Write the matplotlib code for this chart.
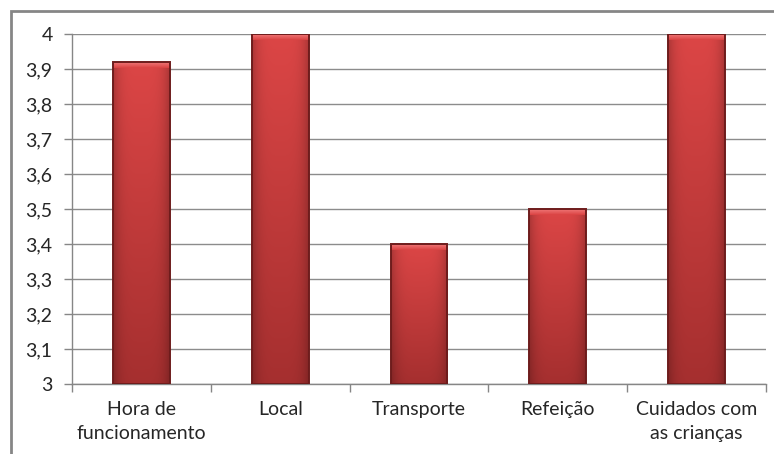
import matplotlib.pyplot as plt
import numpy as np
from matplotlib.patches import Rectangle
from matplotlib.colors import to_rgb

categorias = ['Hora de\nfuncionamento', 'Local', 'Transporte', 'Refeição', 'Cuidados com\nas crianças']
medias = [3.92, 4.0, 3.4, 3.5, 4.0]
yticks = [3.0, 3.1, 3.2, 3.3, 3.4, 3.5, 3.6, 3.7, 3.8, 3.9, 4.0]

plt.rcParams['font.family'] = ['Lato', 'DejaVu Sans']

fig = plt.figure(figsize=(7.74, 4.54), dpi=100)
ax = fig.add_axes([72/774, 1 - 384/454, 694/774, 350/454])

# moldura do grafico (cortada a direita e em baixo)
fig.patches.append(Rectangle((11/774, -0.1), 1.1, 1 - 11/454 + 0.1, transform=fig.transFigure,
                             fill=False, edgecolor='#868686', linewidth=2, zorder=0))

ymin, ymax = 3.0, 4.0
largura = 0.41
topo = np.array(to_rgb('#dc4646'))
base = np.array(to_rgb('#a52f2f'))
luz = np.array(to_rgb('#ee7474'))

x = np.arange(len(categorias))
for xi, v in zip(x, medias):
    npx = max(int(round((v - ymin) / (ymax - ymin) * 350)), 8)
    t = np.linspace(0, 1, npx)[:, None]
    cor = topo * (1 - t[..., None]) + base * t[..., None]
    cor = np.repeat(cor, 60, axis=1)
    h = np.linspace(-1, 1, 60)
    sombra = 1 - 0.22 * np.abs(h) ** 4
    cor = cor * sombra[None, :, None]
    cor[:6] = luz * (1 - np.linspace(0, 1, 6))[:, None, None] + topo * np.linspace(0, 1, 6)[:, None, None]
    ax.imshow(cor, extent=(xi - largura / 2, xi + largura / 2, ymin, v), aspect='auto',
              interpolation='bilinear', zorder=3)
    ax.add_patch(Rectangle((xi - largura / 2, ymin), largura, v - ymin, fill=False,
                           edgecolor='#6e1c1c', linewidth=1.4, zorder=4))

ax.set_xlim(-0.5, len(categorias) - 0.5)
ax.set_ylim(ymin, ymax)
ax.set_yticks(yticks)
ax.set_yticklabels([('%g' % v).replace('.', ',') for v in yticks], fontsize=14, color='#262626')
ax.set_xticks(x)
ax.set_xticklabels(categorias, fontsize=14, color='#262626', linespacing=1.55)
ax.set_xticks(np.arange(-0.5, len(categorias)), minor=True)
ax.tick_params(axis='x', which='major', length=0, pad=12)
ax.tick_params(axis='x', which='minor', length=6, color='#868686', width=1)
ax.tick_params(axis='y', length=6, color='#868686', width=1, pad=8)
ax.grid(axis='y', color='#8c8c8c', linewidth=1, zorder=1)
ax.set_axisbelow(True)
for lado in ['top', 'right']:
    ax.spines[lado].set_visible(False)
for lado in ['left', 'bottom']:
    ax.spines[lado].set_color('#868686')
    ax.spines[lado].set_linewidth(1)

fig.savefig('out.png', dpi=100)
